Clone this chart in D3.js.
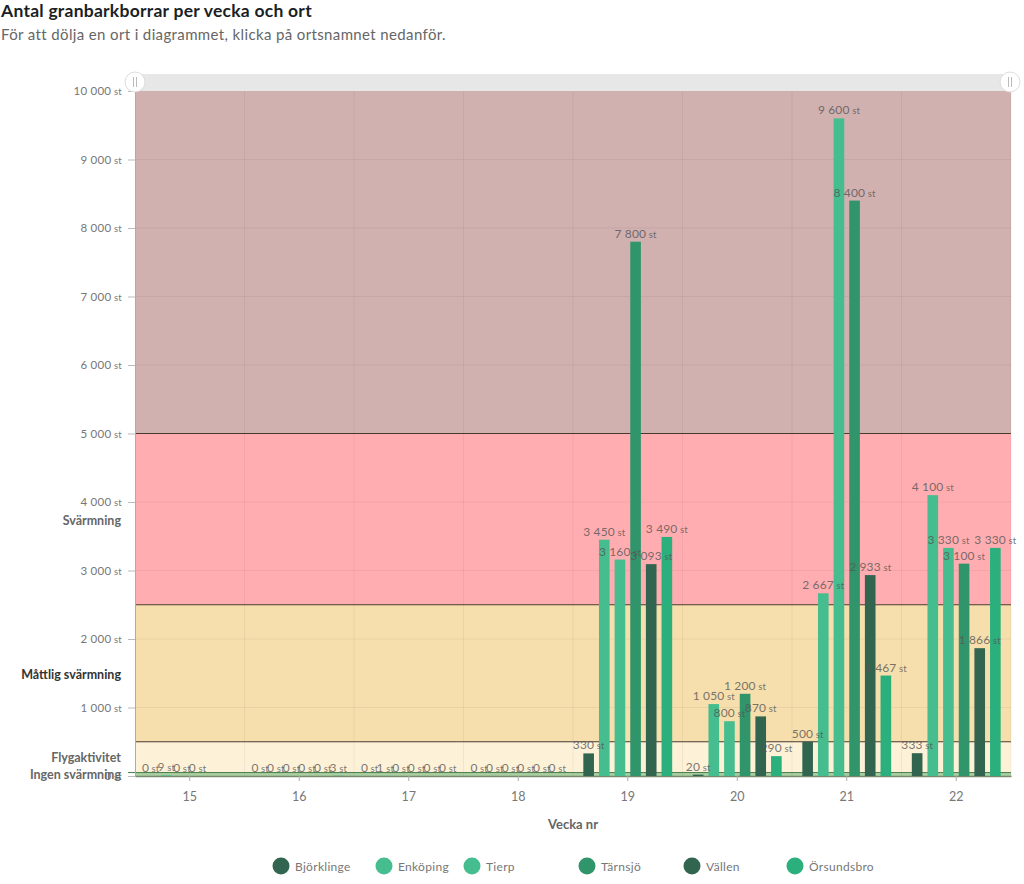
<!doctype html>
<html lang="sv">
<head>
<meta charset="utf-8">
<title>Antal granbarkborrar per vecka och ort</title>
<style>
  html, body { margin: 0; padding: 0; background: #fff; }
  svg { display: block; font-family: Lato, "Noto Sans", sans-serif; }
</style>
</head>
<body>
<svg id="chart" width="1024" height="884"></svg>
<script src="https://d3js.org/d3.v7.min.js"></script>
<script>
var weeks = ["15", "16", "17", "18", "19", "20", "21", "22"];
var places = ["Björklinge", "Enköping", "Tierp", "Tärnsjö", "Vällen", "Örsundsbro"];
var placeColors = ["#32654f", "#45bd8f", "#45bd8f", "#31956c", "#32654f", "#2bb07d"];

// one value per week, null where the place has no reading
var bjorklinge = [0, 0, 0, 0, 330, 20, 500, 333];
var enkoping = [9, 0, 1, 0, 3450, 1050, 2667, 4100];
var tierp = [0, 0, 0, 0, 3160, 800, 9600, 3330];
var tarnsjo = [0, 0, 0, 0, 7800, 1200, 8400, 3100];
var vallen = [null, 0, 0, 0, 3093, 870, 2933, 1866];
var orsundsbro = [null, 3, 0, 0, 3490, 290, 1467, 3330];
var seriesValues = [bjorklinge, enkoping, tierp, tarnsjo, vallen, orsundsbro];

var yTicks = [0, 1000, 2000, 3000, 4000, 5000, 6000, 7000, 8000, 9000, 10000];

var zoneLimits = [[5000, 10000], [2500, 5000], [500, 2500], [50, 500], [0, 50]];
var zoneColors = ["#d1b0b0", "#ffadb0", "#f6dfac", "#fdf1d7", "#a9cfa0"];
var zoneLineColors = ["#4a3a2c", "#4a3a2c", "#4a3a2c", "#4a7a4a"];
var zoneNames = ["Svärmning", "Måttlig svärmning", "Flygaktivitet", "Ingen svärmning"];
var zoneNameValues = [3720, 1470, 260, 10];
var zoneNameColors = ["#666", "#333", "#666", "#666"];
var legendX = [281, 384, 472, 587, 692, 795];

var svg = d3.select("#chart");
var x = d3.scaleBand().domain(weeks).range([135, 1011]);
var y = d3.scaleLinear().domain([0, 10000]).range([776, 91]);
var inner = d3.scaleBand().domain(d3.range(places.length))
    .range([0, x.bandwidth()]).paddingInner(0.32).paddingOuter(0.66);

// 1 000 -> "1 000"
function spaced(v) {
    return String(v).replace(/\B(?=(\d{3})+$)/g, " ");
}

// title
svg.append("text").attr("x", 1).attr("y", 17)
    .attr("font-size", 17.5).attr("font-weight", 700).attr("fill", "#1a1f26")
    .attr("letter-spacing", 0.25)
    .text("Antal granbarkborrar per vecka och ort");
svg.append("text").attr("x", 1).attr("y", 39.5)
    .attr("font-size", 15).attr("fill", "#666").attr("letter-spacing", 0.37)
    .text("För att dölja en ort i diagrammet, klicka på ortsnamnet nedanför.");

// zones
svg.append("g").selectAll("rect").data(zoneLimits).join("rect")
    .attr("x", 135).attr("width", 876)
    .attr("y", function(d) { return y(d[1]); })
    .attr("height", function(d) { return y(d[0]) - y(d[1]); })
    .attr("fill", function(d, i) { return zoneColors[i]; });

// grid
svg.append("g").selectAll("line").data(yTicks.slice(1, -1)).join("line")
    .attr("x1", 135).attr("x2", 1011)
    .attr("y1", function(d) { return y(d); }).attr("y2", function(d) { return y(d); })
    .attr("stroke", "#000").attr("stroke-opacity", 0.05);
svg.append("g").selectAll("line").data(weeks).join("line")
    .attr("x1", function(d) { return x(d) + x.bandwidth(); })
    .attr("x2", function(d) { return x(d) + x.bandwidth(); })
    .attr("y1", 91).attr("y2", 776)
    .attr("stroke", "#000").attr("stroke-opacity", 0.05);

// zone limit lines, the lowest one runs out past the axis
svg.append("g").selectAll("line").data(zoneLimits.slice(0, 4)).join("line")
    .attr("x1", function(d, i) { return i === 3 ? 128 : 135; }).attr("x2", 1011)
    .attr("y1", function(d) { return y(d[0]); }).attr("y2", function(d) { return y(d[0]); })
    .attr("stroke", function(d, i) { return zoneLineColors[i]; }).attr("stroke-width", 1);

// axes
var yAxis = svg.append("g").attr("transform", "translate(135,0)")
    .call(d3.axisLeft(y).tickValues(yTicks).tickSize(7).tickSizeOuter(0).tickPadding(6)
        .tickFormat(function(d) { return spaced(d); }));
yAxis.select(".domain").attr("stroke", "#b5a99a");
yAxis.selectAll(".tick line").attr("stroke", "#bbb");
yAxis.selectAll(".tick text").attr("font-size", 11.5).attr("fill", "#777")
    .attr("letter-spacing", 0.25)
    .attr("font-family", "Lato, sans-serif")
    .append("tspan").attr("font-size", 9.5).text(" st");

var xAxis = svg.append("g").attr("transform", "translate(0,776)")
    .call(d3.axisBottom(x).tickSize(5).tickSizeOuter(0).tickPadding(11));
xAxis.select(".domain").attr("stroke", "#7a8a70").attr("stroke-width", 1.5);
xAxis.selectAll(".tick line").attr("stroke", "#aaa");
xAxis.selectAll(".tick text").attr("font-size", 12.5).attr("fill", "#777")
    .attr("font-family", "Lato, sans-serif");

svg.append("text").attr("x", 573).attr("y", 829).attr("text-anchor", "middle")
    .attr("font-size", 13).attr("font-weight", 700).attr("fill", "#666")
    .text("Vecka nr");

// zone names
svg.append("g").selectAll("text").data(zoneNames).join("text")
    .attr("x", 121)
    .attr("y", function(d, i) { return y(zoneNameValues[i]) + 4; })
    .attr("text-anchor", "end")
    .attr("font-size", 12.5).attr("font-weight", 700)
    .attr("fill", function(d, i) { return zoneNameColors[i]; })
    .text(function(d) { return d; });

// bars, then labels on top
places.forEach(function(place, s) {
    var rows = weeks.map(function(w, i) {
        return { week: w, value: seriesValues[s][i] };
    }).filter(function(d) { return d.value !== null; });
    var g = svg.append("g");
    g.selectAll("rect").data(rows).join("rect")
        .attr("x", function(d) { return x(d.week) + inner(s); })
        .attr("width", inner.bandwidth())
        .attr("y", function(d) { return y(d.value); })
        .attr("height", function(d) { return y(0) - y(d.value); })
        .attr("fill", placeColors[s]);
});
places.forEach(function(place, s) {
    var rows = weeks.map(function(w, i) {
        return { week: w, value: seriesValues[s][i] };
    }).filter(function(d) { return d.value !== null; });
    var labels = svg.append("g").selectAll("text").data(rows).join("text")
        .attr("x", function(d) { return x(d.week) + inner(s) + inner.bandwidth() / 2; })
        .attr("y", function(d) { return y(d.value) - 4; })
        .attr("text-anchor", "middle")
        .attr("font-size", 12).attr("fill", "#555").attr("fill-opacity", 0.8)
        .attr("letter-spacing", 0.15)
        .text(function(d) { return spaced(d.value); });
    labels.append("tspan").attr("font-size", 9.5).text(" st");
});

// zoom slider
svg.append("rect").attr("x", 135).attr("y", 74).attr("width", 876).attr("height", 17)
    .attr("fill", "#e7e7e7");
var handles = svg.append("g").selectAll("g").data([135, 1010]).join("g")
    .attr("transform", function(d) { return "translate(" + d + ",82)"; });
handles.append("circle").attr("r", 10).attr("fill", "#fff")
    .attr("stroke", "#ddd").attr("stroke-width", 1);
handles.selectAll("line").data([-1.5, 1.5]).join("line")
    .attr("x1", function(d) { return d; }).attr("x2", function(d) { return d; })
    .attr("y1", -5).attr("y2", 5).attr("stroke", "#bbb");

// legend
var legend = svg.append("g").selectAll("g").data(places).join("g")
    .attr("transform", function(d, i) { return "translate(" + legendX[i] + ",866)"; });
legend.append("circle").attr("r", 8.5)
    .attr("fill", function(d, i) { return placeColors[i]; });
legend.append("text").attr("x", 14).attr("y", 5)
    .attr("font-size", 12).attr("fill", "#777").attr("letter-spacing", 0.3)
    .text(function(d) { return d; });
</script>
</body>
</html>
